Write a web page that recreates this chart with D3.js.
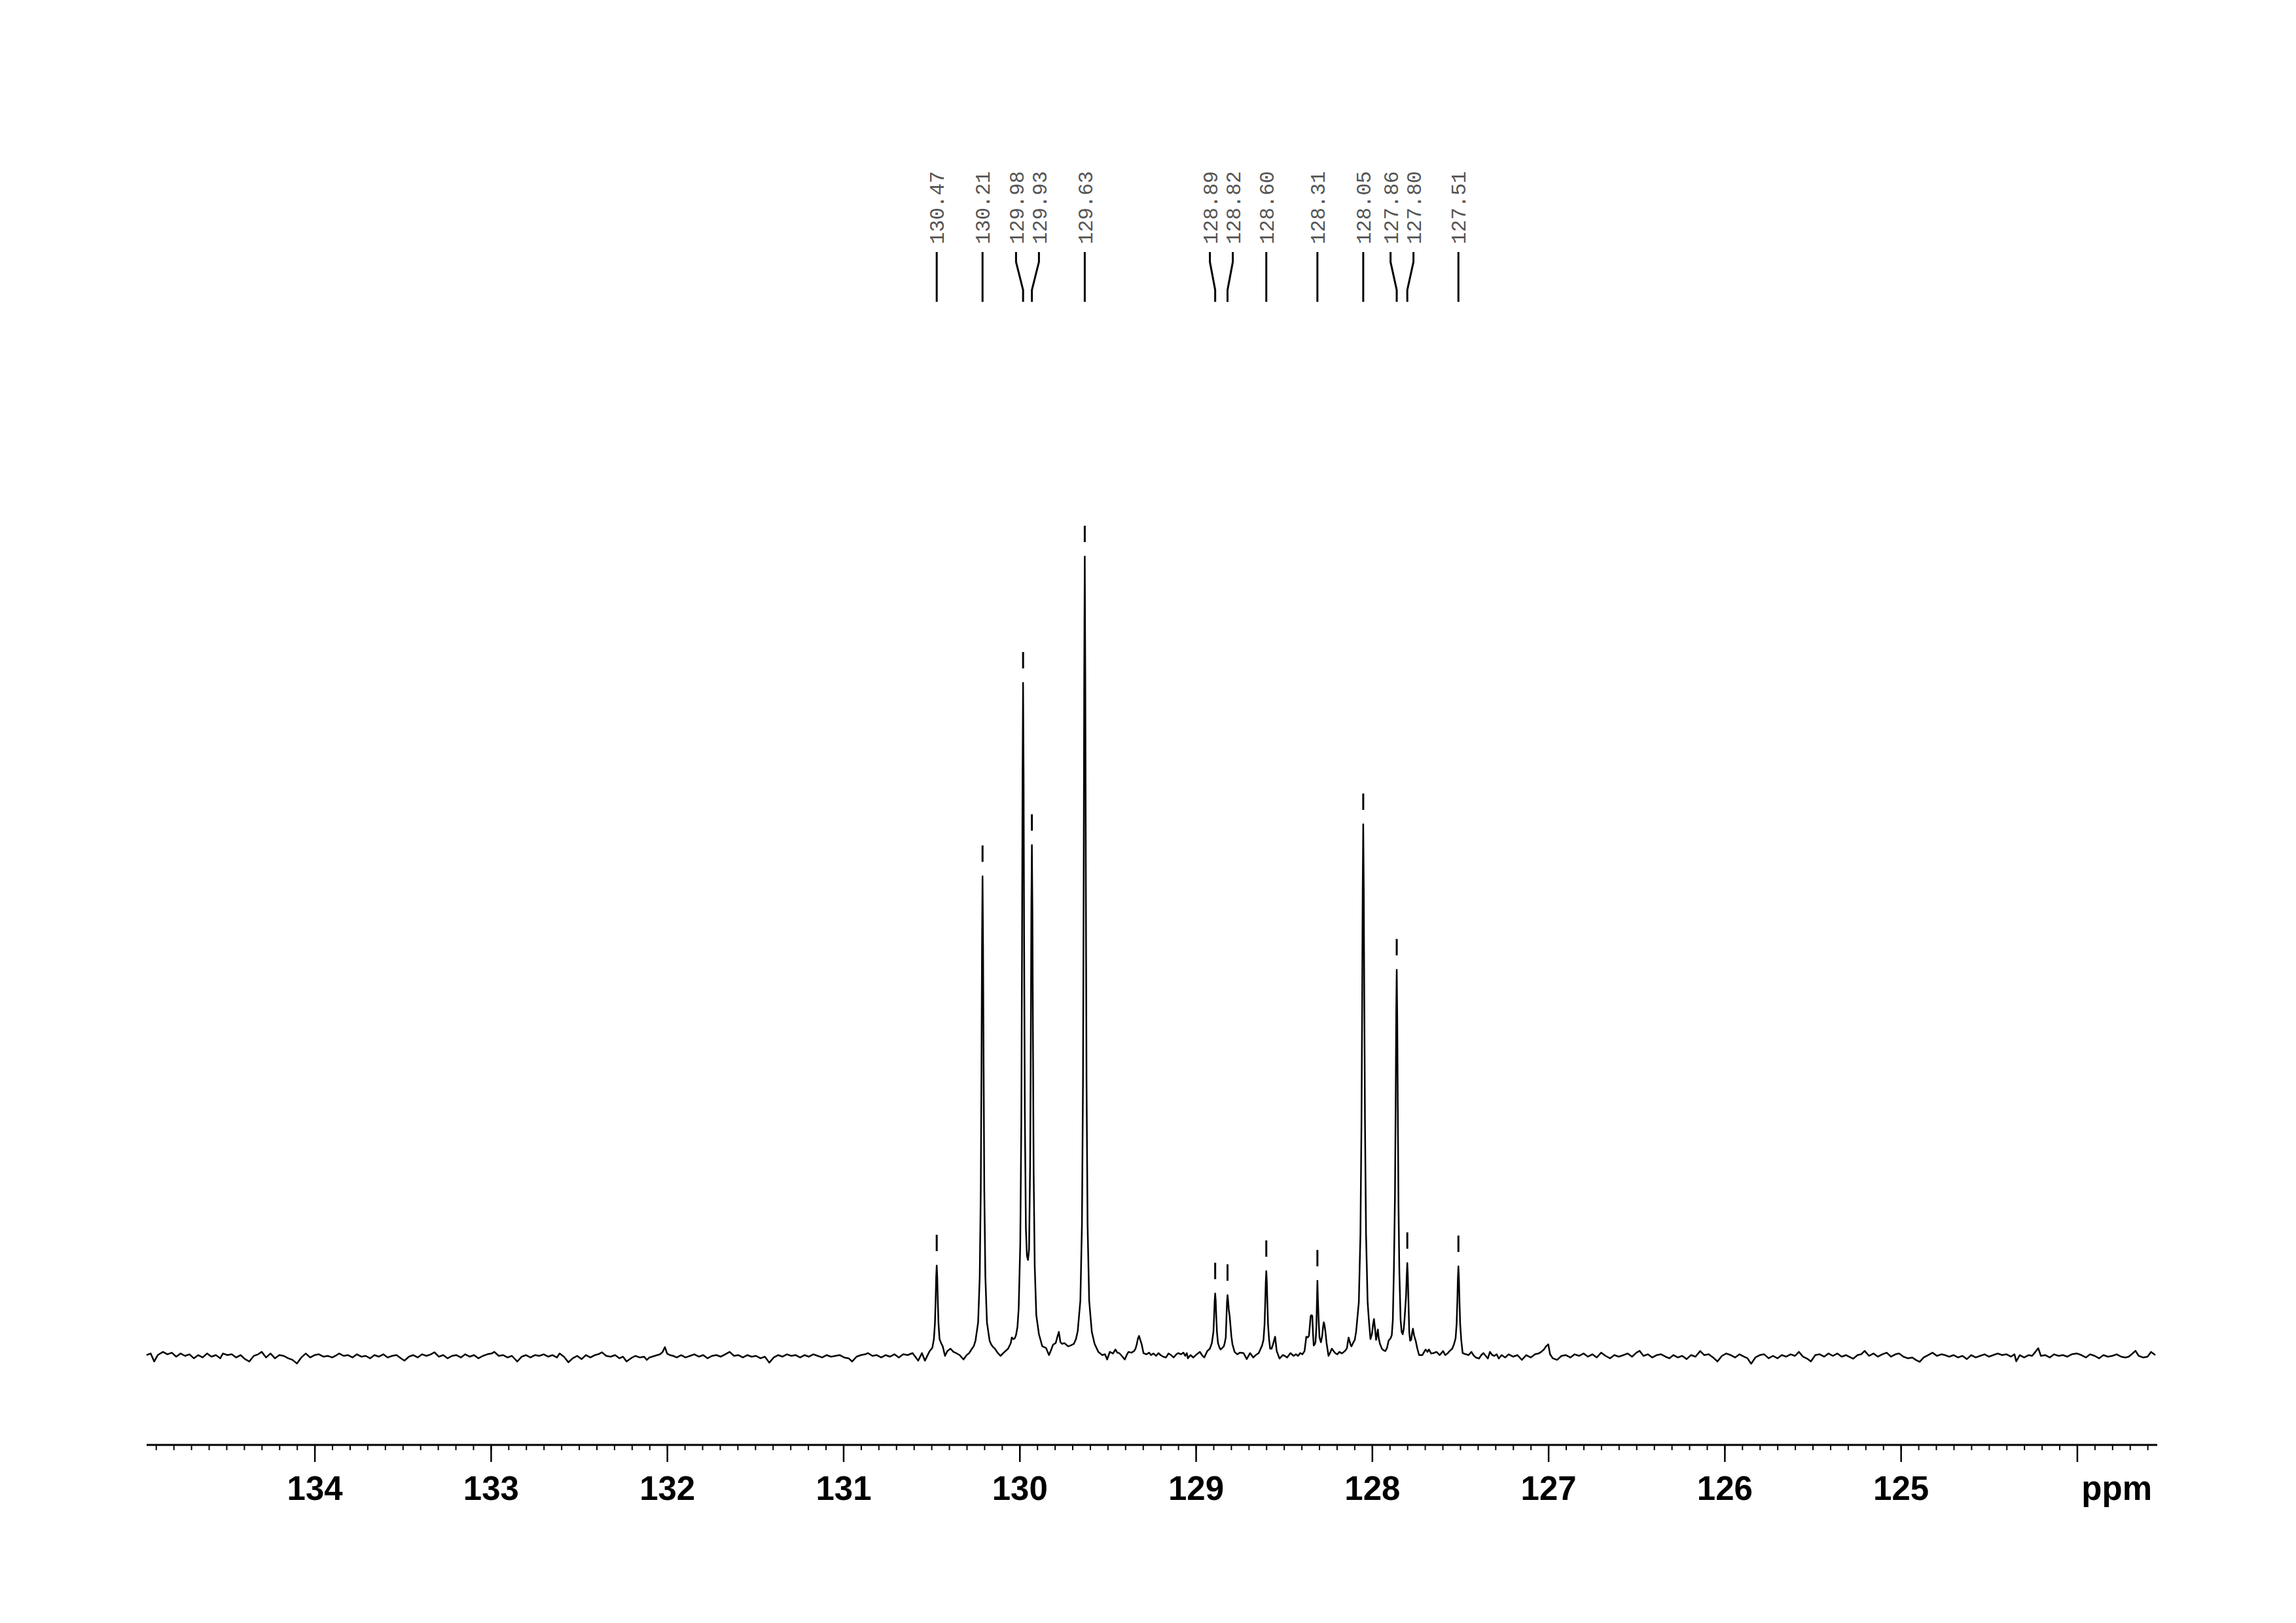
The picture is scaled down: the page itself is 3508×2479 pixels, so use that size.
<!DOCTYPE html>
<html><head><meta charset="utf-8">
<script src="https://cdn.jsdelivr.net/npm/d3@7"></script>
<style>html,body{margin:0;padding:0;background:#fff;} svg{display:block;}</style>
</head><body>
<svg id="chart" width="3508" height="2479"></svg>
<script>
// ---------- data ----------
const peakPpm = [130.47,130.21,129.98,129.93,129.63,128.89,128.82,128.60,128.31,128.05,127.86,127.80,127.51];
const peakLabels = ["130.47","130.21","129.98","129.93","129.63","128.89","128.82","128.60","128.31","128.05","127.86","127.80","127.51"];
const peakHeights = [11.3,60.0,84.2,63.9,100,7.8,7.6,10.6,9.4,66.5,48.3,11.6,11.2];
const majorTicks = [134,133,132,131,130,129,128,127,126,125,124];
const majorTickLabels = ["134","133","132","131","130","129","128","127","126","125",""];
const axisTitle = "ppm";
const ppmRange = [134.953,123.556];

// spectrum trace: [ppm, relative intensity]
const spectrum = [
[134.953,0.1],[134.93,0.3],[134.91,-0.7],[134.89,0.1],[134.86,0.5],[134.835,0.2],[134.81,0.4],[134.785,-0.1],[134.76,0.3],[134.735,0.0],
[134.71,0.2],[134.685,-0.3],[134.66,0.1],[134.635,-0.2],[134.61,0.3],[134.585,-0.1],[134.56,0.1],[134.535,-0.3],[134.52,0.3],[134.495,0.1],
[134.47,0.2],[134.445,-0.2],[134.42,0.1],[134.395,-0.4],[134.37,-0.7],[134.345,0.0],[134.32,0.2],[134.30,0.5],[134.275,-0.2],[134.25,0.3],
[134.225,-0.3],[134.20,0.1],[134.175,0.0],[134.15,-0.3],[134.125,-0.5],[134.10,-0.95],[134.075,-0.2],[134.05,0.3],[134.025,-0.2],[134.00,0.1],
[133.975,0.2],[133.95,-0.1],[133.925,0.0],[133.90,-0.2],[133.875,0.1],[133.86,0.3],[133.835,0.0],[133.81,0.1],[133.785,-0.2],[133.76,0.2],
[133.735,-0.1],[133.71,0.0],[133.685,-0.3],[133.66,0.1],[133.635,-0.1],[133.61,0.2],[133.585,-0.2],[133.56,0.0],[133.535,0.1],[133.51,-0.3],
[133.49,-0.6],[133.465,-0.1],[133.44,0.1],[133.415,-0.2],[133.39,0.2],[133.365,0.0],[133.34,0.2],[133.32,0.45],[133.295,-0.1],[133.27,0.1],
[133.245,-0.3],[133.22,0.0],[133.195,0.1],[133.17,-0.2],[133.145,0.2],[133.12,-0.1],[133.095,0.1],[133.07,-0.3],[133.045,0.0],[133.02,0.2],
[132.995,0.3],[132.98,0.5],[132.955,0.0],[132.93,0.1],[132.905,-0.2],[132.88,0.0],[132.85,-0.7],[132.825,-0.1],[132.80,0.1],[132.775,-0.2],
[132.75,0.1],[132.725,0.0],[132.70,0.2],[132.675,-0.1],[132.65,0.1],[132.625,-0.2],[132.61,0.3],[132.585,-0.1],[132.56,-0.8],[132.535,-0.3],
[132.51,0.0],[132.485,-0.4],[132.46,0.1],[132.435,-0.2],[132.41,0.1],[132.39,0.2],[132.37,0.45],[132.345,0.0],[132.32,-0.1],[132.295,0.1],
[132.27,-0.3],[132.25,-0.1],[132.23,-0.7],[132.205,-0.3],[132.18,0.0],[132.155,-0.2],[132.13,-0.1],[132.115,-0.5],[132.10,-0.2],[132.085,-0.1],
[132.07,0.0],[132.055,0.1],[132.04,0.2],[132.025,0.5],[132.012,1.1],[132.0,0.3],[131.985,0.1],[131.965,0.0],[131.945,-0.2],[131.92,0.1],
[131.895,-0.2],[131.87,0.0],[131.845,0.2],[131.82,-0.1],[131.795,0.1],[131.77,-0.3],[131.745,0.0],[131.72,0.1],[131.695,-0.1],[131.67,0.2],
[131.645,0.5],[131.62,0.0],[131.595,0.1],[131.57,-0.2],[131.545,0.1],[131.52,-0.1],[131.495,0.0],[131.47,-0.3],[131.445,-0.1],[131.42,-0.85],
[131.395,-0.2],[131.37,0.1],[131.345,-0.1],[131.32,0.2],[131.295,0.0],[131.27,0.1],[131.245,-0.2],[131.22,0.1],[131.195,-0.1],[131.17,0.2],
[131.145,0.0],[131.12,-0.2],[131.095,0.1],[131.07,-0.1],[131.045,0.0],[131.02,0.1],[130.995,-0.2],[130.97,-0.3],[130.95,-0.7],[130.925,-0.1],
[130.90,0.1],[130.875,0.2],[130.86,0.35],[130.835,0.0],[130.81,0.1],[130.785,-0.2],[130.76,0.1],[130.735,-0.1],[130.71,0.2],[130.685,-0.2],
[130.66,0.2],[130.635,0.1],[130.607,0.35],[130.575,-0.6],[130.554,0.35],[130.537,-0.6],[130.51,0.6],[130.495,1.0],[130.486,2.1],[130.48,4.1],
[130.476,7.1],[130.473,9.9],[130.47,11.3],[130.467,9.9],[130.464,7.1],[130.46,4.1],[130.454,2.1],[130.445,1.6],[130.436,1.2],[130.423,0.0],
[130.41,0.6],[130.392,0.9],[130.375,0.5],[130.36,0.35],[130.34,0.1],[130.318,-0.45],[130.30,0.1],[130.286,0.35],[130.27,0.9],[130.26,1.2],
[130.25,1.9],[130.235,4.2],[130.226,9.9],[130.22,20.7],[130.216,36.3],[130.213,51.3],[130.21,60],[130.207,51.3],[130.204,36.3],[130.20,20.7],
[130.194,9.9],[130.185,4.2],[130.17,1.9],[130.16,1.4],[130.15,1.1],[130.14,0.9],[130.125,0.4],[130.108,0.0],[130.09,0.4],[130.065,0.9],
[130.05,1.6],[130.044,2.3],[130.035,2.1],[130.027,2.2],[130.02,2.6],[130.012,3.6],[130.005,5.9],[129.996,14],[129.99,29.2],[129.986,51.2],
[129.983,72.4],[129.98,84.2],[129.977,72.6],[129.974,51.6],[129.97,30.3],[129.964,15.9],[129.958,12.5],[129.952,12.0],[129.946,13.3],[129.94,24],
[129.936,40.3],[129.933,56.1],[129.93,63.9],[129.927,55.9],[129.924,39.8],[129.92,23.0],[129.914,11.3],[129.905,5.1],[129.89,2.7],[129.871,1.2],
[129.85,1.0],[129.833,0.1],[129.82,0.8],[129.81,1.4],[129.795,1.6],[129.785,2.4],[129.777,3.0],[129.768,1.7],[129.757,1.5],[129.746,1.6],
[129.735,1.4],[129.725,1.2],[129.71,1.3],[129.692,1.5],[129.68,2.1],[129.67,3.1],[129.655,6.9],[129.646,16.4],[129.64,34.4],[129.636,60.4],
[129.633,85.3],[129.63,100],[129.627,85.3],[129.624,60.4],[129.62,34.4],[129.614,16.4],[129.605,6.9],[129.59,3.0],[129.574,1.5],[129.553,0.5],
[129.531,0.1],[129.515,0.2],[129.503,-0.45],[129.488,0.5],[129.47,0.3],[129.456,0.8],[129.445,0.4],[129.435,0.35],[129.42,0.0],[129.403,-0.45],
[129.39,0.2],[129.382,0.5],[129.365,0.4],[129.35,0.6],[129.342,0.9],[129.335,1.45],[129.328,2.2],[129.322,2.5],[129.315,2.0],[129.307,1.45],
[129.297,0.35],[129.28,0.2],[129.265,0.4],[129.254,0.1],[129.24,0.3],[129.225,0.0],[129.212,0.35],[129.2,0.1],[129.185,-0.1],[129.169,-0.2],
[129.155,0.3],[129.14,0.1],[129.126,-0.2],[129.11,0.2],[129.1,0.35],[129.084,0.2],[129.07,0.4],[129.06,0.0],[129.051,0.35],[129.045,-0.3],
[129.03,0.1],[129.014,-0.2],[129.0,0.1],[128.988,0.3],[128.977,0.5],[128.965,0.1],[128.952,-0.2],[128.935,0.6],[128.92,0.9],[128.909,1.6],
[128.9,3.0],[128.896,5.0],[128.893,6.9],[128.89,7.8],[128.887,6.9],[128.884,5.0],[128.88,3.0],[128.874,1.6],[128.865,1.0],[128.859,0.8],
[128.85,1.0],[128.841,1.2],[128.836,1.6],[128.83,2.3],[128.826,4.8],[128.823,6.7],[128.82,7.6],[128.817,7.0],[128.813,5.8],[128.808,5.0],
[128.804,4.0],[128.798,2.4],[128.792,1.45],[128.78,0.5],[128.765,0.2],[128.75,0.4],[128.729,0.35],[128.711,-0.4],[128.692,0.35],[128.674,-0.2],
[128.66,0.1],[128.643,0.35],[128.624,1.3],[128.616,2.0],[128.61,3.9],[128.606,6.7],[128.603,9.3],[128.6,10.6],[128.597,9.3],[128.594,6.7],
[128.59,3.9],[128.584,2.0],[128.578,0.9],[128.57,0.9],[128.562,1.45],[128.555,2.0],[128.55,2.4],[128.546,1.6],[128.541,0.6],[128.525,-0.33],
[128.507,0.1],[128.495,0.0],[128.482,-0.2],[128.463,0.35],[128.445,0.0],[128.432,0.2],[128.42,0.0],[128.408,0.35],[128.395,0.2],[128.383,0.6],
[128.373,2.4],[128.365,2.3],[128.358,2.5],[128.352,4.0],[128.348,5.0],[128.343,5.1],[128.339,5.0],[128.335,2.8],[128.331,1.3],[128.326,1.4],
[128.321,1.7],[128.316,3.5],[128.313,6.5],[128.31,9.4],[128.307,7.0],[128.303,4.5],[128.298,2.3],[128.29,1.7],[128.283,2.5],[128.278,3.6],
[128.274,4.2],[128.27,3.9],[128.265,3.1],[128.258,1.6],[128.247,0.0],[128.238,0.4],[128.228,0.9],[128.218,0.6],[128.209,0.35],[128.197,0.2],
[128.185,0.5],[128.172,0.3],[128.16,0.5],[128.15,0.7],[128.142,1.0],[128.137,1.8],[128.133,2.3],[128.128,1.9],[128.122,1.4],[128.117,1.2],
[128.108,1.6],[128.098,2.0],[128.09,3.1],[128.075,6.7],[128.066,15.1],[128.06,29.1],[128.056,44.6],[128.053,58.5],[128.05,66.5],[128.047,58.5],
[128.044,44.6],[128.04,29.1],[128.034,15.1],[128.025,6.7],[128.018,4.5],[128.009,2.1],[128.0,2.8],[127.994,4.0],[127.989,4.6],[127.984,3.6],
[127.977,2.0],[127.972,2.6],[127.967,3.3],[127.962,2.2],[127.955,1.5],[127.944,0.9],[127.935,0.7],[127.925,0.6],[127.915,1.0],[127.906,1.9],
[127.895,2.2],[127.888,2.6],[127.882,4.5],[127.876,10.9],[127.87,20],[127.866,31.5],[127.863,42.5],[127.86,48.3],[127.857,42.5],[127.854,31.5],
[127.85,19],[127.845,10.5],[127.838,4.5],[127.832,3.0],[127.826,2.7],[127.82,3.4],[127.816,4.5],[127.812,5.8],[127.807,7.5],[127.803,10.2],
[127.8,11.6],[127.797,10.0],[127.793,6.5],[127.789,3.0],[127.784,1.9],[127.778,2.0],[127.772,3.0],[127.768,3.4],[127.762,2.6],[127.752,1.86],
[127.743,0.9],[127.733,0.1],[127.715,0.1],[127.696,0.8],[127.685,0.5],[127.677,0.8],[127.665,0.3],[127.652,0.35],[127.634,0.5],[127.616,0.1],
[127.597,0.6],[127.585,0.1],[127.572,0.3],[127.56,0.6],[127.545,0.9],[127.535,1.45],[127.526,2.2],[127.52,4.0],[127.516,6.9],[127.513,9.7],
[127.51,11.2],[127.507,9.7],[127.504,6.9],[127.5,4.0],[127.494,2.0],[127.486,0.35],[127.467,0.2],[127.452,0.1],[127.436,0.5],[127.425,0.1],
[127.411,-0.2],[127.393,-0.33],[127.38,0.1],[127.368,0.35],[127.355,0.0],[127.343,-0.33],[127.331,0.5],[127.318,0.1],[127.306,0.0],[127.293,0.2],
[127.281,-0.33],[127.265,0.1],[127.244,-0.2],[127.225,0.2],[127.2,-0.1],[127.175,0.1],[127.15,-0.5],[127.125,0.1],[127.1,-0.2],[127.075,0.2],
[127.055,0.3],[127.04,0.5],[127.025,0.8],[127.012,1.2],[127.0,1.45],[126.99,0.2],[126.975,-0.3],[126.95,-0.5],[126.925,0.0],[126.9,0.1],
[126.875,-0.2],[126.85,0.2],[126.825,0.0],[126.8,0.3],[126.775,-0.1],[126.75,0.2],[126.725,-0.2],[126.7,0.4],[126.675,0.0],[126.65,-0.3],
[126.625,0.1],[126.6,-0.1],[126.573,0.1],[126.55,0.3],[126.525,-0.1],[126.5,0.4],[126.482,0.63],[126.46,0.0],[126.435,0.2],[126.41,-0.2],
[126.385,0.1],[126.36,0.2],[126.335,-0.1],[126.313,-0.3],[126.29,0.1],[126.265,-0.2],[126.24,0.0],[126.215,-0.4],[126.19,0.1],[126.165,-0.1],
[126.138,0.6],[126.115,0.1],[126.09,0.2],[126.065,-0.2],[126.04,-0.7],[126.015,0.0],[125.99,0.3],[125.965,0.1],[125.94,-0.2],[125.915,0.2],
[125.89,-0.1],[125.87,-0.3],[125.849,-0.98],[125.825,-0.2],[125.8,0.1],[125.775,0.2],[125.75,-0.3],[125.725,0.0],[125.7,-0.3],[125.675,0.1],
[125.65,-0.1],[125.625,0.2],[125.6,0.0],[125.578,0.5],[125.555,-0.1],[125.531,-0.35],[125.51,-0.7],[125.485,0.1],[125.46,0.2],[125.435,-0.1],
[125.41,0.3],[125.385,0.0],[125.36,0.3],[125.335,-0.1],[125.31,0.1],[125.285,-0.2],[125.27,-0.35],[125.245,0.1],[125.225,0.2],[125.205,0.63],
[125.18,0.0],[125.155,0.3],[125.13,-0.1],[125.105,0.2],[125.08,0.4],[125.055,-0.1],[125.03,0.2],[125.01,0.3],[124.985,-0.1],[124.96,-0.3],
[124.935,-0.2],[124.915,-0.5],[124.893,-0.74],[124.87,-0.2],[124.845,0.1],[124.82,0.4],[124.795,0.0],[124.77,0.2],[124.75,0.1],[124.725,-0.1],
[124.7,0.1],[124.675,-0.2],[124.65,0.0],[124.625,-0.4],[124.6,0.1],[124.575,-0.2],[124.55,0.0],[124.525,0.2],[124.5,-0.1],[124.475,0.1],
[124.45,0.3],[124.425,0.1],[124.4,0.2],[124.375,-0.1],[124.355,0.2],[124.345,-0.68],[124.325,0.1],[124.3,-0.2],[124.275,0.1],[124.255,0.0],
[124.24,0.4],[124.22,0.96],[124.205,0.0],[124.18,0.1],[124.155,-0.2],[124.13,0.2],[124.105,0.0],[124.08,0.1],[124.055,-0.1],[124.03,0.2],
[124.0,0.3],[123.975,0.1],[123.95,-0.2],[123.925,0.2],[123.9,0.0],[123.875,-0.3],[123.85,0.1],[123.825,-0.1],[123.8,0.0],[123.775,0.2],
[123.75,-0.1],[123.725,-0.2],[123.707,-0.1],[123.69,0.2],[123.668,0.63],[123.65,0.0],[123.625,-0.2],[123.6,-0.1],[123.58,0.5],[123.556,0.1]
];

// ---------- drawing ----------
const svg = d3.select("#chart");
svg.append("rect").attr("width",3508).attr("height",2479).attr("fill","#fff");

const x = d3.scaleLinear().domain(ppmRange).range([224, 3293]);
const y = d3.scaleLinear().domain([0, 100]).range([2071, 850]);
const axisY = 2207;

// spectrum
const line = d3.line().x(d => x(d[0])).y(d => y(d[1]));
svg.append("path").datum(spectrum)
  .attr("d", line).attr("fill","none").attr("stroke","#000")
  .attr("stroke-width",2.5).attr("stroke-linejoin","round");

// peak-top markers
svg.append("g").selectAll("line").data(peakPpm).join("line")
  .attr("x1", d => x(d)).attr("x2", d => x(d))
  .attr("y1", (d,i) => y(peakHeights[i]) - 47)
  .attr("y2", (d,i) => y(peakHeights[i]) - 22)
  .attr("stroke","#000").attr("stroke-width",3);

// label positions (spread to avoid overlap)
const gap = 35;
const lx = peakPpm.map(p => x(p));
for (let it = 0; it < 100; it++) {
  for (let i = 0; i < lx.length - 1; i++) {
    const d = lx[i+1] - lx[i];
    if (d < gap) { const s = (gap - d) / 2; lx[i] -= s; lx[i+1] += s; }
  }
}
const gLab = svg.append("g");
gLab.selectAll("path").data(peakPpm).join("path")
  .attr("d", (d,i) => `M${lx[i]},385V400L${x(d)},443V461`)
  .attr("fill","none").attr("stroke","#000").attr("stroke-width",3);
gLab.selectAll("text").data(peakLabels).join("text")
  .attr("transform", (d,i) => `translate(${lx[i]},373) rotate(-90)`)
  .attr("dy","0.36em")
  .attr("text-anchor","start")
  .attr("font-family","'Liberation Mono', 'DejaVu Sans Mono', monospace")
  .attr("font-size",31).attr("fill","#555")
  .text(d => d);

// axis
const minorTicks = d3.range(1236, 1350).map(v => v / 10).filter(v => v <= ppmRange[0] && v >= ppmRange[1]);
const minorAxis = d3.axisBottom(x).tickValues(minorTicks).tickSize(8).tickSizeOuter(0).tickFormat("");
const gMinor = svg.append("g").attr("transform", `translate(0,${axisY})`).call(minorAxis);
gMinor.select(".domain").remove();
gMinor.selectAll(".tick line").attr("stroke","#000").attr("stroke-width",2);

const majorAxis = d3.axisBottom(x).tickValues(majorTicks).tickSize(26).tickSizeOuter(0)
  .tickFormat((d,i) => majorTickLabels[i]);
const gMajor = svg.append("g").attr("transform", `translate(0,${axisY})`).call(majorAxis);
gMajor.select(".domain").remove();
gMajor.selectAll(".tick line").attr("stroke","#000").attr("stroke-width",2.5);
gMajor.selectAll(".tick text")
  .attr("y", 84).attr("dy", null)
  .attr("font-family","'Liberation Sans', Arial, Helvetica, sans-serif")
  .attr("font-weight","bold").attr("font-size",51).attr("fill","#000");

svg.append("line").attr("x1",224).attr("x2",3296).attr("y1",axisY).attr("y2",axisY)
  .attr("stroke","#000").attr("stroke-width",3);

svg.append("text").attr("x",3288).attr("y",axisY + 84)
  .attr("text-anchor","end")
  .attr("font-family","'Liberation Sans', Arial, Helvetica, sans-serif")
  .attr("font-weight","bold").attr("font-size",51).attr("fill","#000")
  .text(axisTitle);
</script>
</body></html>
